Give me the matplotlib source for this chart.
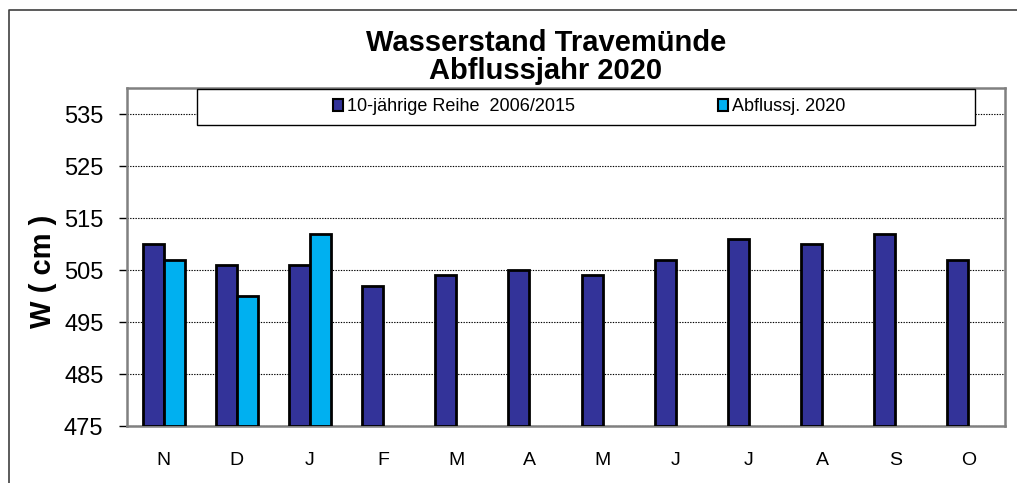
import matplotlib
matplotlib.use("Agg")
import matplotlib.pyplot as plt
import numpy as np
from matplotlib.patches import Rectangle, Patch
from matplotlib.lines import Line2D

plt.rcParams['font.family'] = ['Liberation Sans', 'DejaVu Sans']

# data
months = ['N', 'D', 'J', 'F', 'M', 'A', 'M', 'J', 'J', 'A', 'S', 'O']
mean_2006_2015 = [510, 506, 506, 502, 504, 505, 504, 507, 511, 510, 512, 507]
year_2020 = [507, 500, 512]
y_ticks = [475, 485, 495, 505, 515, 525, 535]
base = 475

dark = '#333399'
light = '#00b0f0'

W, H = 1017, 483
fig = plt.figure(figsize=(W / 100, H / 100), dpi=100)

def px_box(x0, y0, x1, y1):
    # pixel box (top-left origin) -> figure fraction [l, b, w, h]
    return [x0 / W, 1 - y1 / H, (x1 - x0) / W, (y1 - y0) / H]

ax = fig.add_axes(px_box(127, 88, 1005, 426))

x = np.arange(len(months))
w = 0.287
ax.bar(x - w / 2, np.array(mean_2006_2015) - base, bottom=base, width=w,
       color=dark, edgecolor='black', linewidth=2, zorder=3)
x2 = x[:len(year_2020)]
ax.bar(x2 + w / 2, np.array(year_2020) - base, bottom=base, width=w,
       color=light, edgecolor='black', linewidth=2, zorder=3)

ax.set_xlim(-0.5, len(months) - 0.5)
ax.set_ylim(475, 540)
ax.set_yticks(y_ticks)
ax.set_xticks(x)
ax.set_xticklabels(months)
ax.tick_params(axis='y', labelsize=17, length=6, width=1, pad=11, color='black')
ax.tick_params(axis='x', labelsize=14, length=0, pad=19)

ax.yaxis.grid(True, color='black', linestyle=(0, (1.2, 1.2)), linewidth=0.8, zorder=0)
ax.set_axisbelow(True)
for s in ax.spines.values():
    s.set_color('#808080')
    s.set_linewidth(1.8)

# outer frame of the chart (only top and left edges are inside the picture)
fig.add_artist(Line2D([9 / W, 9 / W, 1.0], [0.0, 1 - 10 / H, 1 - 10 / H],
                      transform=fig.transFigure, color='#404040', linewidth=1.2))

fig.text(546 / W, 1 - 57 / H, 'Wasserstand Travemünde\nAbflussjahr 2020',
         ha='center', va='center', fontsize=21, fontweight='bold', linespacing=1.0)

fig.text(43 / W, 1 - 271 / H, 'W ( cm )', rotation=90, ha='center', va='center',
         fontsize=21, fontweight='bold')

# legend box
lb = px_box(197, 89, 975, 125)
fig.add_artist(Rectangle((lb[0], lb[1]), lb[2], lb[3], transform=fig.transFigure,
                         facecolor='white', edgecolor='black', linewidth=1.0, zorder=4))
handles = [Patch(facecolor=dark, edgecolor='black', linewidth=1.5),
           Patch(facecolor=light, edgecolor='black', linewidth=1.5)]
fig.legend(handles, ['10-jährige Reihe  2006/2015', 'Abflussj. 2020'],
           loc='center', bbox_to_anchor=(589 / W, 1 - 107 / H), ncol=2,
           frameon=False, fontsize=13, handlelength=0.6, handleheight=0.6,
           handletextpad=0.2, columnspacing=7.9, borderpad=0)

fig.savefig('out.png', dpi=100)
